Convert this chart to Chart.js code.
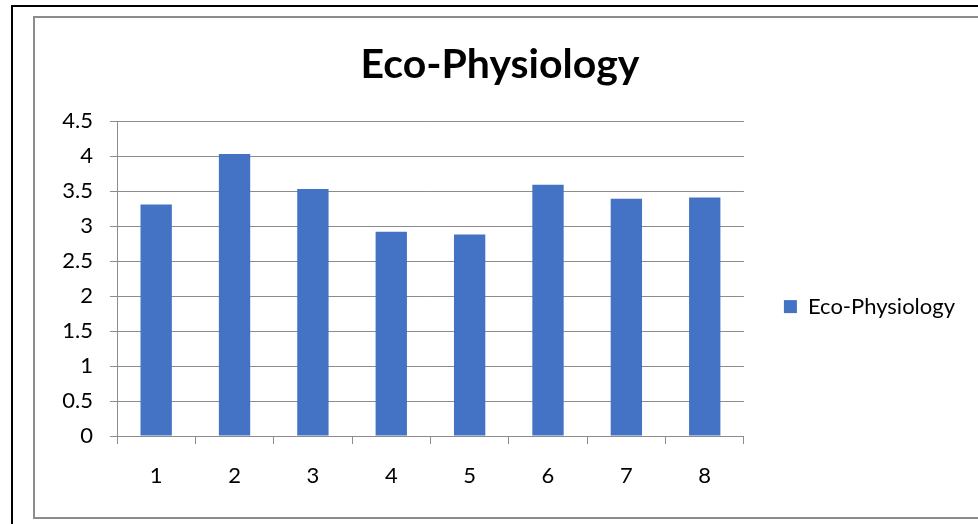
<!DOCTYPE html>
<html>
<head>
<meta charset="utf-8">
<script src="https://cdn.jsdelivr.net/npm/chart.js@4"></script>
<style>
  html, body { margin: 0; padding: 0; background: #fff; overflow: hidden; }
  body { width: 978px; height: 524px; position: relative; }
  #outer { position: absolute; left: 11px; top: 5px; width: 1000px; height: 600px;
           border-left: 2px solid #000; border-top: 2px solid #000; }
  #frame { position: absolute; left: 33px; top: 16px; width: 1000px; height: 499px;
           border: 2px solid #8c8c8c; }
  #wrap { position: absolute; left: 35px; top: 18px; width: 1000px; height: 499px; }
</style>
</head>
<body>
<div id="outer"></div>
<div id="frame"></div>
<div id="wrap"><canvas id="c" width="1000" height="499"></canvas></div>
<script>
// data
const categories = ['1', '2', '3', '4', '5', '6', '7', '8'];
const ecoPhysiology = [3.31, 4.03, 3.53, 2.92, 2.88, 3.59, 3.39, 3.41];
const seriesName = 'Eco-Physiology';
const yTicks = [0, 0.5, 1, 1.5, 2, 2.5, 3, 3.5, 4, 4.5];

const FONT = 'Lato, Calibri, Carlito, sans-serif';
const GRID = '#8c8c8c';

new Chart(document.getElementById('c'), {
  type: 'bar',
  data: {
    labels: categories,
    datasets: [{
      label: seriesName,
      data: ecoPhysiology,
      backgroundColor: '#4472C4',
      borderWidth: 0,
      barPercentage: 0.4,
      categoryPercentage: 1.0
    }]
  },
  options: {
    responsive: false,
    animation: false,
    devicePixelRatio: 1,
    layout: { padding: { top: 0, right: 70, bottom: 0, left: 0 } },
    plugins: {
      title: {
        display: true,
        text: seriesName,
        color: '#000',
        font: { family: FONT, size: 41, weight: 'bold' },
        padding: { top: 22, bottom: 32 }
      },
      legend: {
        display: true,
        position: 'right',
        // empty title only pushes the single entry down to where it sits in the original
        title: { display: true, text: ' ', font: { size: 1 }, padding: { top: 77, bottom: 0 } },
        labels: {
          color: '#000',
          font: { family: FONT, size: 22 },
          boxWidth: 13,
          boxHeight: 13,
          padding: 40
        }
      },
      tooltip: { enabled: false }
    },
    scales: {
      x: {
        offset: true,
        grid: {
          offset: true,
          drawOnChartArea: false,
          drawTicks: true,
          tickLength: 8,
          color: GRID
        },
        border: { color: GRID, width: 1 },
        ticks: { color: '#000', font: { family: FONT, size: 22 }, padding: 19 },
        afterFit: s => { s.height = 81; }
      },
      y: {
        min: 0,
        max: 4.5,
        afterBuildTicks: s => { s.ticks = yTicks.map(v => ({ value: v })); },
        grid: { color: GRID, tickLength: 7, drawTicks: true },
        border: { color: GRID, width: 1 },
        ticks: {
          color: '#000',
          font: { family: FONT, size: 22 },
          padding: 17,
          callback: v => String(v)
        },
        afterFit: s => { s.width = 82; }
      }
    }
  }
});
</script>
</body>
</html>
